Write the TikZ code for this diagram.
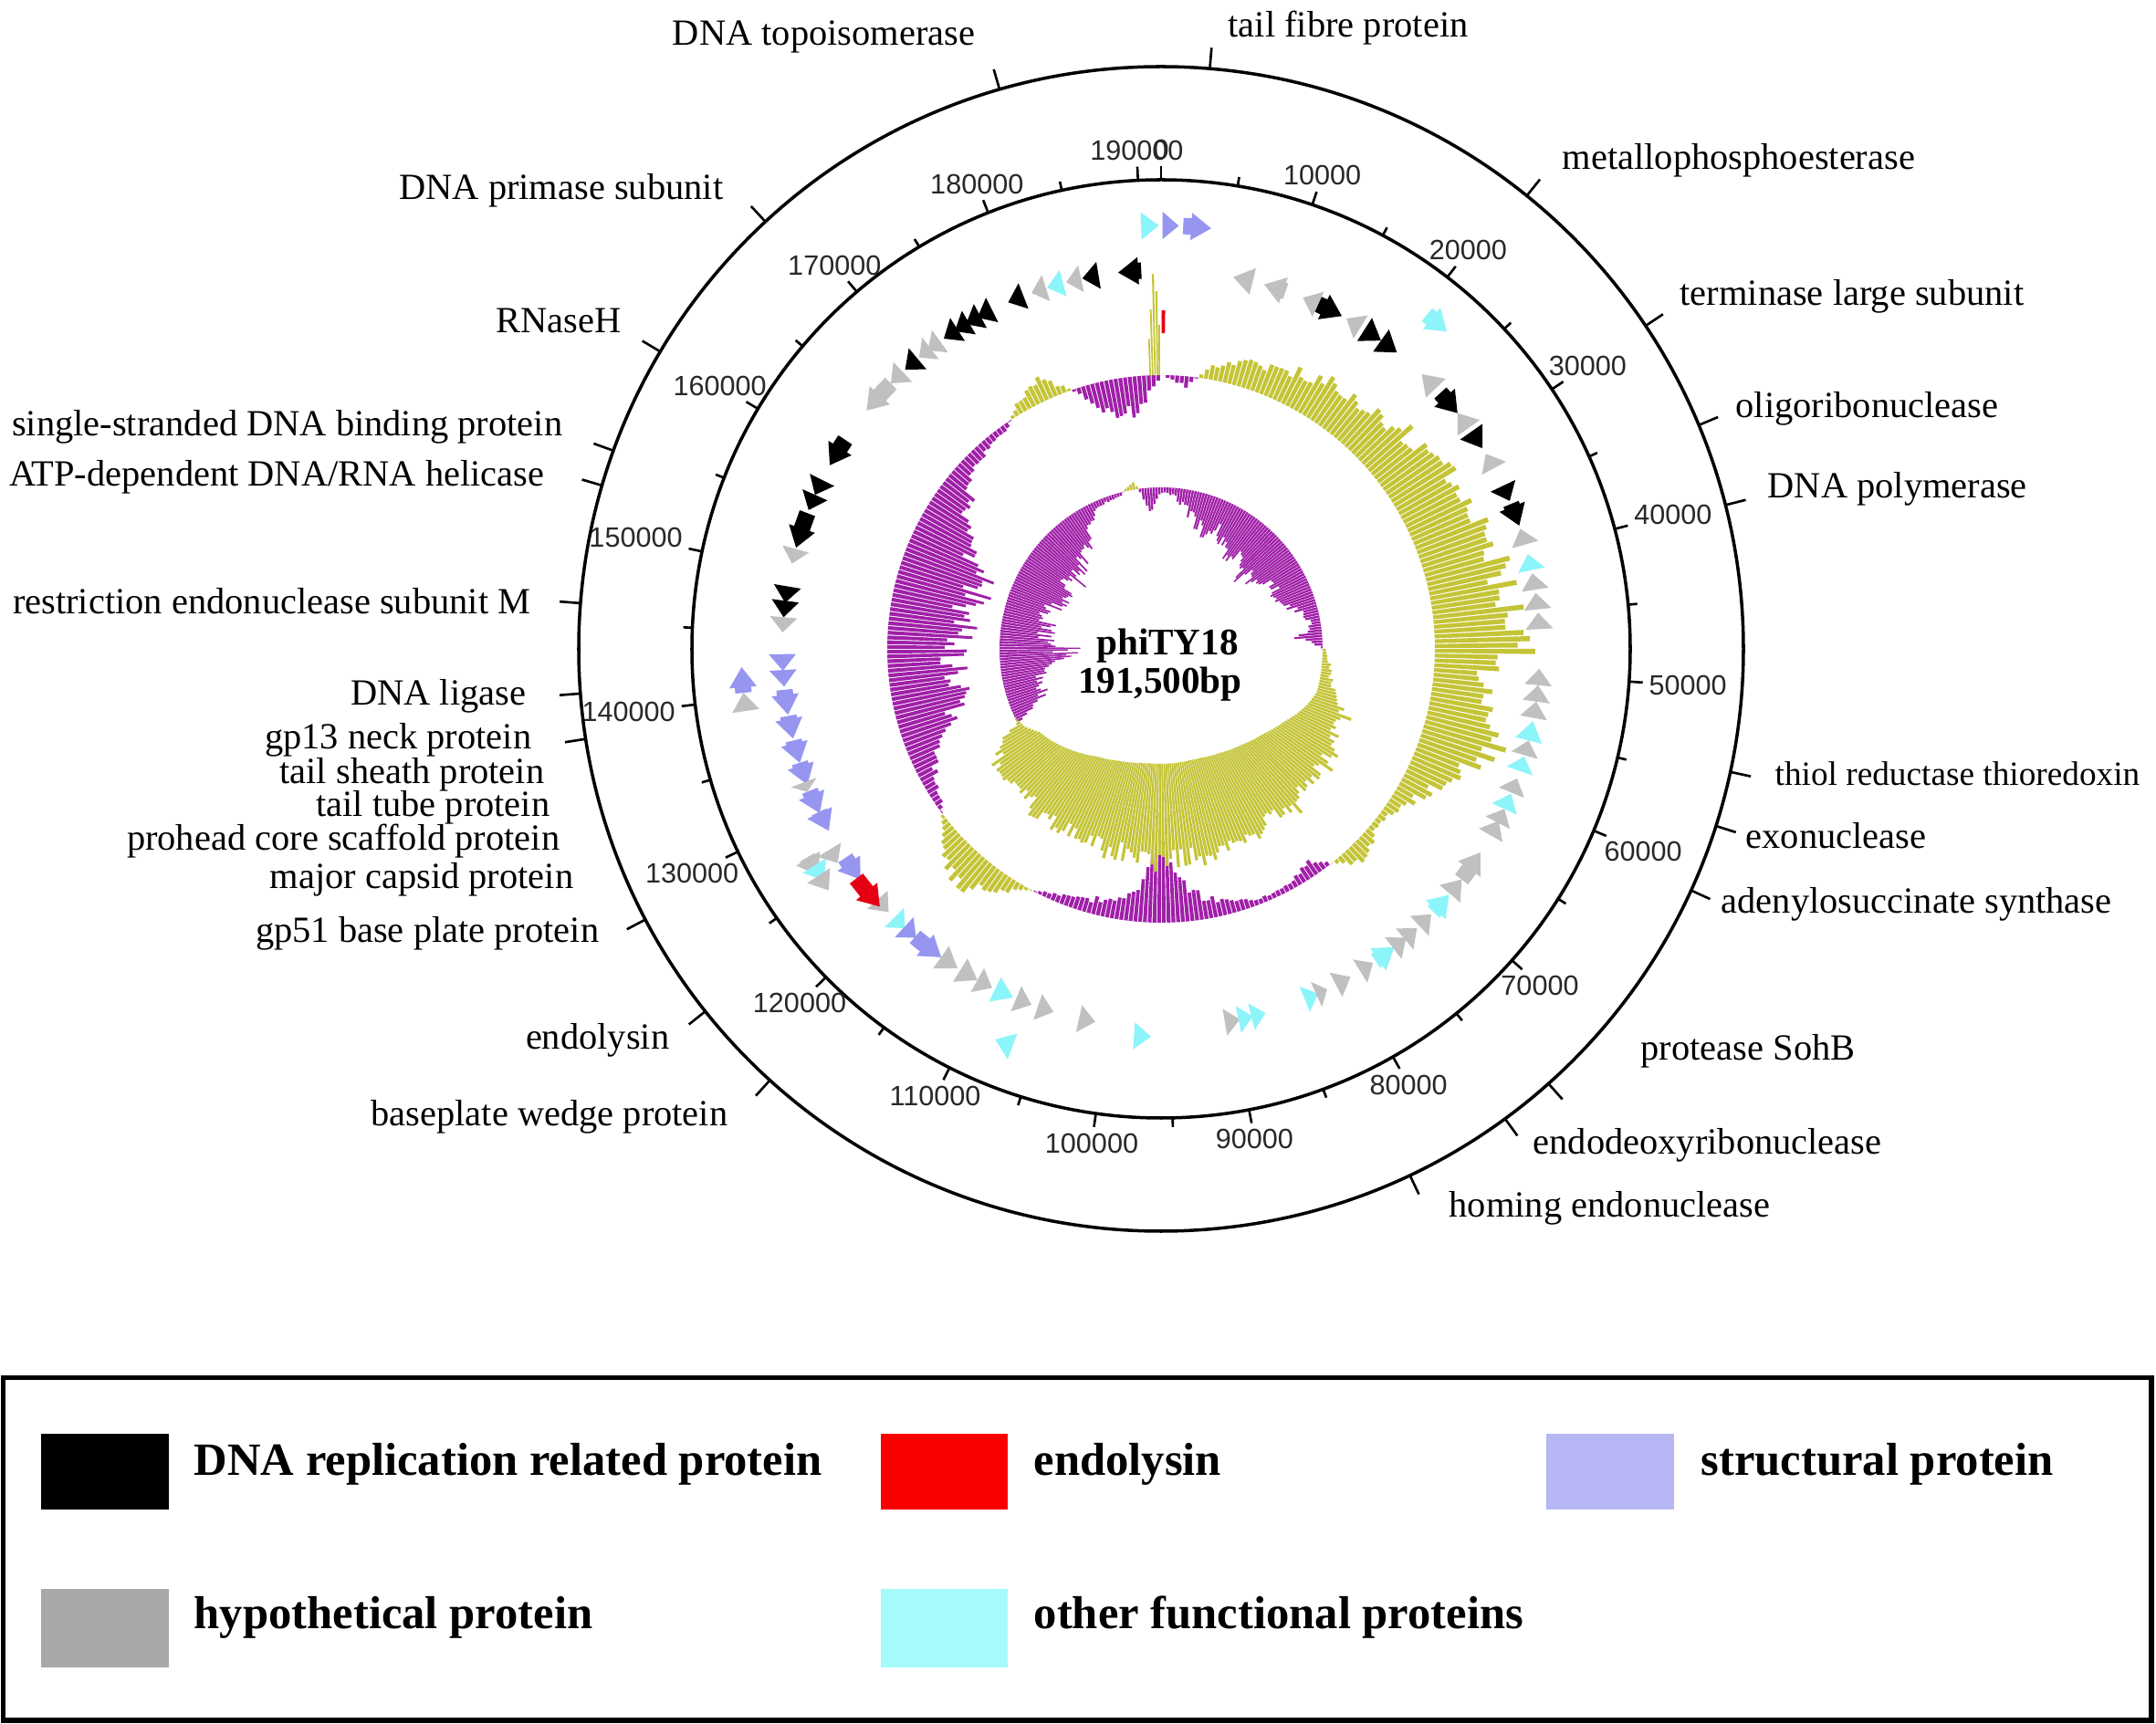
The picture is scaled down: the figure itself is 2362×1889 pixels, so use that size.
\documentclass[tikz,border=0pt]{standalone}
\usepackage{fontspec}
\setmainfont{Liberation Serif}
\setsansfont{Liberation Sans}
\definecolor{gcolive}{RGB}{196,196,56}
\definecolor{gcpurple}{RGB}{160,32,168}
\definecolor{ggray}{RGB}{192,192,192}
\definecolor{gblue}{RGB}{150,150,240}
\definecolor{gcyan}{RGB}{140,245,250}
\definecolor{gred}{RGB}{230,0,20}
\definecolor{lgray}{RGB}{168,168,168}
\definecolor{lblue}{RGB}{182,182,245}
\definecolor{lcyan}{RGB}{165,250,250}
\definecolor{lred}{RGB}{250,0,0}
\definecolor{rulecol}{RGB}{40,40,40}
\tikzset{
  lab/.style={font=\fontsize{11.5}{13}\selectfont, inner sep=0pt},
  rlab/.style={font=\sffamily\fontsize{8.7}{10}\selectfont, inner sep=1.5pt, text=rulecol},
  legtext/.style={font=\bfseries\fontsize{14.4}{16}\selectfont, anchor=base west, inner sep=0pt},
  ctext/.style={font=\bfseries\fontsize{11.7}{14}\selectfont, anchor=base, inner sep=0pt},
  circ/.style={line width=1pt},
  tickline/.style={line width=0.75pt}
}
% GC content (baseline 300) and GC skew (baseline 177), values every 5 degrees
\def\gcA{{0,-12,15,25,30,35,45,48,50,55,60,65,72,75,76,80,85,90,95,50,70,80,68,45,25,10,5,25,5,-18,-8,-5,-8,-15,-25,-45,-80,-40,-22,-15,-10,-5,5,25,40,35,10,-8,-15,-32,-55,-68,-75,-72,-78,-80,-82,-88,-100,-68,-60,-42,-25,-15,-10,-5,15,25,3,-25,-40,-35,0}}
\def\gcB{{-5,-10,-22,-35,-40,-30,-45,-50,-40,-55,-58,-50,-35,-40,-35,-20,-10,-25,4,8,12,25,40,35,40,45,40,45,50,48,45,52,50,55,55,55,58,55,50,50,48,45,45,50,45,45,42,40,20,-25,-40,-35,-50,-70,-75,-50,-55,-45,-50,-55,-60,-55,-60,-50,-45,-40,-20,-8,-5,-3,10,-25,-5}}
% inward extent of the olive part of the GC skew ring
\def\gcW{{0,0,0,0,0,0,0,0,0,0,0,0,0,0,0,0,0,0,0,0,0,0,5,12,20,26,32,36,40,43,46,48,50,51,51,51,51,51,50,48,46,43,40,35,30,25,20,16,5,0,0,0,0,0,0,0,0,0,0,0,0,0,0,0,0,0,0,0,0,0,0,0,0}}
\newcommand\gcring[2]{%
 \foreach \i in {0,...,359}{%
  \pgfmathtruncatemacro\kk{\i/5}%
  \pgfmathtruncatemacro\kn{\kk+1}%
  \pgfmathsetmacro\ff{(\i-5*\kk)/5}%
  \pgfmathsetmacro\va{#1[\kk]}%
  \pgfmathsetmacro\vb{#1[\kn]}%
  \pgfmathsetmacro\vv{(\va*(1-\ff)+\vb*\ff)*(0.78+0.44*rnd)}%
  \ifdim\vv pt<0pt \def\cc{gcpurple}\else\def\cc{gcolive}\fi
  \fill[fill=\cc] ({\i-90}:#2) -- ({\i-90}:{#2+\vv}) -- ({\i-89.2}:{#2+\vv}) -- ({\i-89.2}:#2) -- cycle;
 }}
\newcommand\gcinner[2]{%
 \foreach \i in {105,...,245}{%
  \pgfmathtruncatemacro\kk{\i/5}%
  \pgfmathtruncatemacro\kn{\kk+1}%
  \pgfmathsetmacro\ff{(\i-5*\kk)/5}%
  \pgfmathsetmacro\va{#1[\kk]}%
  \pgfmathsetmacro\vb{#1[\kn]}%
  \pgfmathsetmacro\vv{\va*(1-\ff)+\vb*\ff}%
  \fill[fill=gcolive] ({\i-90}:#2) -- ({\i-90}:{#2-\vv}) -- ({\i-89.2}:{#2-\vv}) -- ({\i-89.2}:#2) -- cycle;
 }}
% gene arrow: #1 start angle, #2 end angle (clockwise from top), #3 radius, #4 direction (1 cw, -1 ccw), #5 colour
\newcommand\gn[5]{%
 \pgfmathsetmacro\hd{22/(#3)*180/pi}%
 \pgfmathsetmacro\gspan{#2-#1}%
 \ifdim\gspan pt>\hd pt
   \ifnum#4>0
     \pgfmathsetmacro\ah{#2-\hd}%
     \fill[fill=#5] ({#1-90}:{#3-9}) -- ({#1-90}:{#3+9}) -- ({\ah-90}:{#3+9}) -- ({\ah-90}:{#3+15}) -- ({#2-90}:#3) -- ({\ah-90}:{#3-15}) -- ({\ah-90}:{#3-9}) -- cycle;
   \else
     \pgfmathsetmacro\ah{#1+\hd}%
     \fill[fill=#5] ({#2-90}:{#3-9}) -- ({#2-90}:{#3+9}) -- ({\ah-90}:{#3+9}) -- ({\ah-90}:{#3+15}) -- ({#1-90}:#3) -- ({\ah-90}:{#3-15}) -- ({\ah-90}:{#3-9}) -- cycle;
   \fi
 \else
   \ifnum#4>0
     \fill[fill=#5] ({#1-90}:{#3+15}) -- ({#2-90}:#3) -- ({#1-90}:{#3-15}) -- cycle;
   \else
     \fill[fill=#5] ({#2-90}:{#3+15}) -- ({#1-90}:#3) -- ({#2-90}:{#3-15}) -- cycle;
   \fi
 \fi}
\begin{document}
\begin{tikzpicture}[x=0.01cm,y=-0.01cm]
\useasboundingbox (0,0) rectangle (2362,1889);
\fill[white] (0,0) rectangle (2362,1889);

\begin{scope}[shift={(1272,711)}]
 \pgfmathsetseed{11}
 \gcring{\gcA}{300}
 \gcring{\gcB}{177}
 \gcinner{\gcW}{177}
 % spike and red mark at the origin
 \foreach \a/\h in {357.6/40,358.1/72,358.6/111,359.1/92,359.5/55}
   \fill[gcolive] ({\a-90}:300) -- ({\a-90}:{300+\h}) -- ({\a-89.7}:{300+\h}) -- ({\a-89.7}:300) -- cycle;
 \fill[gred] ({0.1-90}:346) -- ({0.1-90}:371) -- ({0.7-90}:371) -- ({0.7-90}:346) -- cycle;

 % genes
 \gn{357.3}{359.7}{464}{1}{gcyan}
 \gn{0.2}{2.4}{464}{1}{gblue}
 \gn{3}{6.8}{464}{1}{gblue}
 \gn{353.5}{357}{415}{-1}{black}
 \gn{348}{350.5}{415}{-1}{black}
 \gn{345.5}{347.8}{415}{-1}{ggray}
 \gn{342.5}{345}{415}{-1}{gcyan}
 \gn{340}{342.3}{415}{-1}{ggray}
 \gn{336.2}{338.7}{415}{-1}{black}
 \gn{331}{333.5}{415}{-1}{black}
 \gn{329}{331.5}{415}{-1}{black}
 \gn{327}{329.5}{415}{-1}{black}
 \gn{325}{327.5}{415}{-1}{black}
 \gn{322}{324.3}{415}{-1}{ggray}
 \gn{320.3}{322.5}{415}{-1}{ggray}
 \gn{317.5}{320}{415}{-1}{black}
 \gn{314.5}{317}{415}{-1}{ggray}
 \gn{309}{314.5}{415}{-1}{ggray}
 \gn{299}{303.5}{415}{-1}{black}
 \gn{294}{296.5}{415}{-1}{black}
 \gn{291.5}{294}{415}{-1}{black}
 \gn{285.5}{291}{415}{-1}{black}
 \gn{283}{285.3}{415}{-1}{ggray}
 \gn{277}{279.5}{415}{-1}{black}
 \gn{274.8}{277.3}{415}{-1}{black}
 \gn{272.5}{274.8}{415}{-1}{ggray}
 \gn{266.7}{269.2}{415}{-1}{gblue}
 \gn{264.3}{266.8}{415}{-1}{gblue}
 \gn{260}{263.8}{415}{-1}{gblue}
 \gn{256.3}{259.8}{415}{-1}{gblue}
 \gn{252.5}{256}{415}{-1}{gblue}
 \gn{249}{252.5}{415}{-1}{gblue}
 \gn{248}{249.5}{418}{-1}{ggray}
 \gn{244.3}{248}{415}{-1}{gblue}
 \gn{241.3}{244.5}{415}{-1}{gblue}
 \gn{264}{267.5}{460}{1}{gblue}
 \gn{261.5}{264}{460}{1}{ggray}
 \gn{236.5}{239.5}{450}{-1}{ggray}
 \gn{235.5}{238}{448}{-1}{gcyan}
 \gn{234}{236.5}{450}{-1}{ggray}
 \gn{236.5}{238.8}{425}{-1}{ggray}
 \gn{232.5}{236.5}{415}{-1}{gblue}
 \gn{226}{228.5}{415}{-1}{ggray}
 \gn{227.5}{233}{418}{-1}{gred}
 \gn{222.5}{224.8}{415}{-1}{gcyan}
 \gn{220.3}{222.7}{415}{-1}{gblue}
 \gn{215.5}{220.5}{415}{-1}{gblue}
 \gn{212.5}{215.5}{415}{-1}{ggray}
 \gn{209}{212}{415}{-1}{ggray}
 \gn{206.5}{209}{415}{-1}{ggray}
 \gn{203}{206}{415}{-1}{gcyan}
 \gn{200}{202.5}{415}{-1}{ggray}
 \gn{196.5}{199}{415}{-1}{ggray}
 \gn{200.5}{203}{465}{1}{gcyan}
 \gn{190}{192.5}{415}{-1}{ggray}
 \gn{181.5}{184}{425}{-1}{gcyan}
 \gn{168}{170.3}{415}{-1}{ggray}
 \gn{166}{168.2}{415}{-1}{gcyan}
 \gn{164}{166.2}{415}{-1}{gcyan}
 \gn{155.5}{157.7}{415}{-1}{gcyan}
 \gn{154}{155.8}{415}{-1}{ggray}
 \gn{150}{152.5}{415}{-1}{ggray}
 \gn{146}{148.3}{415}{-1}{ggray}
 \gn{142}{145.5}{415}{-1}{gcyan}
 \gn{139.7}{142.2}{415}{-1}{ggray}
 \gn{137.5}{140}{415}{-1}{ggray}
 \gn{134.5}{137}{415}{-1}{ggray}
 \gn{130.5}{134}{415}{-1}{gcyan}
 \gn{127.5}{130.3}{415}{-1}{ggray}
 \gn{122.5}{127.5}{415}{-1}{ggray}
 \gn{117}{119.5}{415}{-1}{ggray}
 \gn{115}{117.3}{415}{-1}{ggray}
 \gn{112.5}{115}{415}{-1}{gcyan}
 \gn{110}{112.3}{415}{-1}{ggray}
 \gn{106.5}{108.8}{415}{-1}{gcyan}
 \gn{104}{106.3}{415}{-1}{ggray}
 \gn{101}{104}{415}{-1}{gcyan}
 \gn{98}{100.5}{415}{-1}{ggray}
 \gn{95.5}{98}{415}{-1}{ggray}
 \gn{93}{95.5}{415}{-1}{ggray}
 \gn{84.5}{87}{415}{-1}{ggray}
 \gn{81.5}{84}{415}{-1}{ggray}
 \gn{78.5}{81}{415}{-1}{ggray}
 \gn{75.5}{78}{415}{-1}{gcyan}
 \gn{71.5}{74}{415}{-1}{ggray}
 \gn{67.5}{71}{415}{1}{black}
 \gn{64.5}{67}{415}{1}{black}
 \gn{59}{61.5}{415}{-1}{ggray}
 \gn{55}{58}{415}{1}{black}
 \gn{51.5}{54.3}{415}{-1}{ggray}
 \gn{47.5}{51.5}{415}{1}{black}
 \gn{43.5}{46.5}{415}{-1}{ggray}
 \gn{38.5}{42}{468}{1}{gcyan}
 \gn{35.5}{38.5}{415}{1}{black}
 \gn{32.5}{35.5}{415}{1}{black}
 \gn{29.3}{31.8}{415}{-1}{ggray}
 \gn{24.5}{28.5}{415}{1}{black}
 \gn{22}{24.5}{415}{-1}{ggray}
 \gn{15.8}{19.2}{415}{-1}{ggray}
 \gn{11}{14}{415}{-1}{ggray}

 % ruler
 \draw[circ] (0,0) circle[radius=514];
 \foreach \b in {0,5,...,190}{
   \pgfmathsetmacro\aa{\b/191.5*360}
   \pgfmathtruncatemacro\mm{mod(\b,10)}
   \ifnum\mm=0
     \draw[tickline] ({\aa-90}:514) -- ({\aa-90}:529);
     \pgfmathtruncatemacro\anc{mod(630-\aa,360)}
     \node[rlab, anchor=\anc] (r\b) at ({\aa-90}:530) {\ifnum\b=0 0\else\b000\fi};
   \else
     \draw[tickline] ({\aa-90}:514) -- ({\aa-90}:524);
   \fi
 }
 % outer circle and label ticks
 \draw[circ] (0,0) circle[radius=638];
 \foreach \a in {4.8,343.9,38.9,56.3,67.4,75.7,102.2,107.7,114.5,138.3,143.8,154.7,317.2,300.7,289.9,286.3,274.5,265.6,261.1,242.3,231.5,222.2}
   \draw[tickline] ({\a-90}:638) -- ({\a-90}:661);
\end{scope}

% centre text
\node[ctext] (title) at (1279,718) {phiTY18};
\node[ctext] (size) at (1271,760) {191,500bp};

% right labels
\node[lab, anchor=base west] (l1) at (1345,41) {tail fibre protein};
\node[lab, anchor=base west] (l2) at (1711,186) {metallophosphoesterase};
\node[lab, anchor=base west] (l3) at (1840,335) {terminase large subunit};
\node[lab, anchor=base west] (l4) at (1901,458) {oligoribonuclease};
\node[lab, anchor=base west] (l5) at (1936,546) {DNA polymerase};
\node[lab, anchor=base west, font=\fontsize{10.6}{12}\selectfont] (l6) at (1944,861) {thiol reductase thioredoxin};
\node[lab, anchor=base west] (l7) at (1912,930) {exonuclease};
\node[lab, anchor=base west] (l8) at (1885,1001) {adenylosuccinate synthase};
\node[lab, anchor=base west] (l9) at (1797,1162) {protease SohB};
\node[lab, anchor=base west] (l10) at (1679,1265) {endodeoxyribonuclease};
\node[lab, anchor=base west] (l11) at (1587,1334) {homing endonuclease};
% left labels
\node[lab, anchor=base east] (m1) at (1069,50) {DNA topoisomerase};
\node[lab, anchor=base east] (m2) at (793,219) {DNA primase subunit};
\node[lab, anchor=base east] (m3) at (681,365) {RNaseH};
\node[lab, anchor=base east] (m4) at (617,478) {single-stranded DNA binding protein};
\node[lab, anchor=base east] (m5) at (597,533) {ATP-dependent DNA/RNA helicase};
\node[lab, anchor=base east] (m6) at (582,673) {restriction endonuclease subunit M};
\node[lab, anchor=base east] (m7) at (577,773) {DNA ligase};
\node[lab, anchor=base east] (m8) at (583,821) {gp13 neck protein};
\node[lab, anchor=base east] (m9) at (597,859) {tail sheath protein};
\node[lab, anchor=base east] (m10) at (603,895) {tail tube protein};
\node[lab, anchor=base east] (m11) at (614,932) {prohead core scaffold protein};
\node[lab, anchor=base east] (m12) at (629,974) {major capsid protein};
\node[lab, anchor=base east] (m13) at (657,1033) {gp51 base plate protein};
\node[lab, anchor=base east] (m14) at (734,1150) {endolysin};
\node[lab, anchor=base east] (m15) at (798,1234) {baseplate wedge protein};

% legend
\draw[line width=1.7pt] (3.5,1509.5) rectangle (2357,1885);
\fill[black] (45,1571) rectangle (185,1654);
\fill[lred] (965,1571) rectangle (1104,1654);
\fill[lblue] (1694,1571) rectangle (1834,1654);
\fill[lgray] (45,1741) rectangle (185,1827);
\fill[lcyan] (965,1741) rectangle (1104,1827);
\node[legtext] (t1) at (212,1617) {DNA replication related protein};
\node[legtext] (t2) at (1132,1617) {endolysin};
\node[legtext] (t3) at (1863,1617) {structural protein};
\node[legtext] (t4) at (212,1785) {hypothetical protein};
\node[legtext] (t5) at (1132,1785) {other functional proteins};
\end{tikzpicture}
\end{document}
